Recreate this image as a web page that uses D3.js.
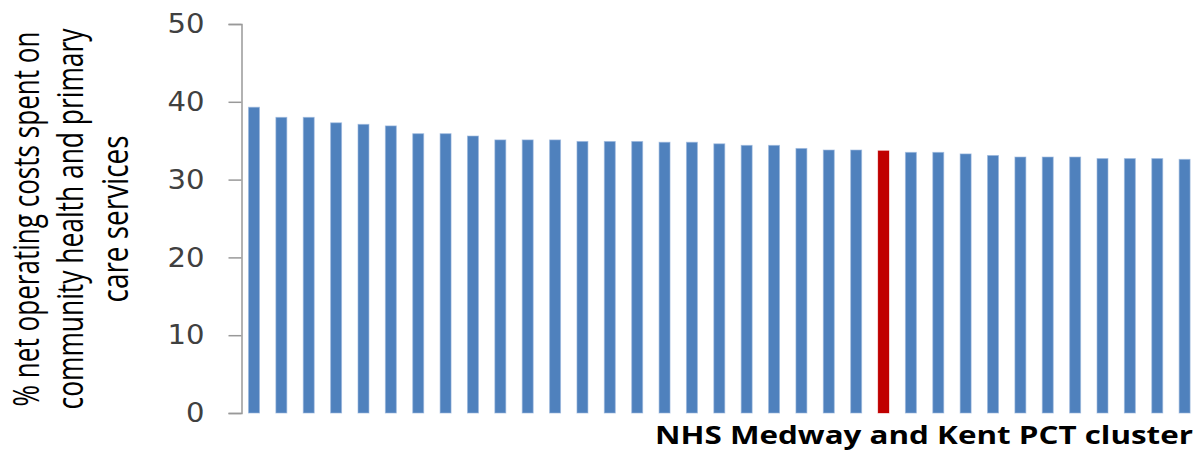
<!DOCTYPE html>
<html>
<head>
<meta charset="utf-8">
<script src="https://cdn.jsdelivr.net/npm/d3@7"></script>
<style>
  body { margin: 0; background: #fff; }
  svg { display: block; }
</style>
</head>
<body>
<script>
// % net operating costs per PCT cluster, sorted high to low
var values = [39.3, 38.0, 38.0, 37.3, 37.1, 36.9, 35.9, 35.9, 35.6, 35.1,
              35.1, 35.1, 34.9, 34.9, 34.9, 34.8, 34.8, 34.6, 34.4, 34.4,
              34.0, 33.8, 33.8, 33.7, 33.5, 33.5, 33.3, 33.1, 32.9, 32.9,
              32.9, 32.7, 32.7, 32.7, 32.6];
var highlightIndex = 23; // NHS Medway and Kent
var yTicks = [0, 10, 20, 30, 40, 50];
var yTitleLines = ["% net operating costs spent on", "community health and primary", "care services"];
var xTitle = "NHS Medway and Kent PCT cluster";

var w = 1204, h = 451;

var svg = d3.select("body")
	.append("svg")
	.attr("width", w)
	.attr("height", h);

var x = d3.scaleBand()
	.domain(d3.range(values.length))
	.range([240.3, 1198.3])
	.paddingInner(0.6)
	.paddingOuter(0.3);

var y = d3.scaleLinear()
	.domain([0, 50])
	.range([413, 24]);

// bars
svg.selectAll(".bar")
	.data(values)
	.enter()
	.append("rect")
	.attr("class", "bar")
	.attr("x", function(d, i){ return x(i); })
	.attr("width", x.bandwidth())
	.attr("y", function(d){ return y(d); })
	.attr("height", function(d){ return y(0) - y(d); })
	.style("fill", function(d, i){ return i == highlightIndex ? "#C00000" : "#4F81BD"; })
	.style("stroke", function(d, i){ return i == highlightIndex ? "rgba(192,0,0,0.35)" : "rgba(150,180,220,0.6)"; })
	.style("stroke-width", 1);

// y axis
var yAxis = d3.axisLeft(y)
	.tickValues(yTicks)
	.tickSize(13)
	.tickPadding(24);

var axis = svg.append("g")
	.attr("class", "axis")
	.attr("transform", "translate(241.5, 0)")
	.call(yAxis);

axis.select(".domain")
	.attr("stroke", "#999")
	.attr("stroke-width", 1.5);
axis.selectAll(".tick line")
	.attr("stroke", "#999")
	.attr("stroke-width", 1.5);
axis.selectAll(".tick text")
	.attr("fill", "#404040")
	.style("font-family", "'DejaVu Sans', Verdana, sans-serif")
	.style("font-size", "27px")
	.attr("textLength", function(d){ return String(d).length * 18.5; })
	.attr("lengthAdjust", "spacingAndGlyphs");

// y title, three rotated lines (glyphs stretched across, like the source)
var yTitleLens = [375, 381, 167];
var yTitleBase = [39, 83, 128];
svg.selectAll(".ytitle")
	.data(yTitleLines)
	.enter()
	.append("text")
	.attr("class", "ytitle")
	.attr("transform", function(d, i){ return "translate(" + yTitleBase[i] + ",219) scale(1.38,1) rotate(-90)"; })
	.attr("text-anchor", "middle")
	.attr("textLength", function(d, i){ return yTitleLens[i]; })
	.attr("lengthAdjust", "spacingAndGlyphs")
	.style("font-family", "'Open Sans', sans-serif")
	.style("font-size", "27px")
	.style("fill", "#000")
	.text(function(d){ return d; });

// x title
svg.append("text")
	.attr("class", "xtitle")
	.attr("x", 1193)
	.attr("y", 444)
	.attr("text-anchor", "end")
	.attr("textLength", 538)
	.attr("lengthAdjust", "spacingAndGlyphs")
	.style("font-family", "'Open Sans', sans-serif")
	.style("font-weight", "bold")
	.style("font-size", "24.5px")
	.style("fill", "#000")
	.text(xTitle);
</script>
</body>
</html>
